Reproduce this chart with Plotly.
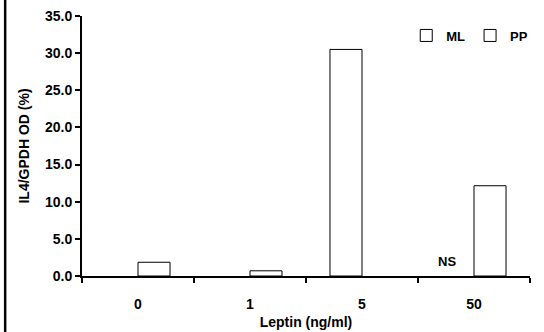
import plotly.graph_objects as go

categories = ["0", "1", "5", "50"]
ml_values = [None, None, 30.5, None]
pp_values = [1.85, 0.7, None, 12.15]
y_ticks = [0, 5, 10, 15, 20, 25, 30, 35]
y_tick_labels = ["0.0", "5.0", "10.0", "15.0", "20.0", "25.0", "30.0", "35.0"]

FONT = "Liberation Sans, Arial, sans-serif"

fig = go.Figure()
fig.add_trace(go.Bar(name="<b>ML</b>", x=categories, y=ml_values,
                     marker=dict(color="white", line=dict(color="black", width=1))))
fig.add_trace(go.Bar(name="<b>PP</b>", x=categories, y=pp_values,
                     marker=dict(color="white", line=dict(color="black", width=1))))

fig.add_annotation(x=3, y=1.9, xref="x", yref="y", text="<b>NS</b>", showarrow=False,
                   xshift=-27, font=dict(family=FONT, size=13, color="black"))

# scan frame edge at left
fig.add_shape(type="line", xref="paper", yref="paper", x0=-0.1715, x1=-0.1715, y0=-0.3, y1=1.2,
              line=dict(color="black", width=2.5))

fig.update_layout(
    width=544, height=332,
    margin=dict(l=82, r=13, t=16, b=56),
    paper_bgcolor="white", plot_bgcolor="white",
    barmode="group", bargap=0.428, bargroupgap=0,
    font=dict(family=FONT, size=13, color="black"),
    showlegend=True,
    legend=dict(orientation="h", x=1.005, xanchor="right", y=0.925, yanchor="middle",
                itemwidth=30,
                font=dict(family=FONT, size=13, color="black"),
                bgcolor="rgba(0,0,0,0)", tracegroupgap=0),
    xaxis=dict(type="category", range=[-0.5, 3.5], autorange=False, automargin=False,
               title=dict(text="<b>Leptin (ng/ml)</b>", standoff=6, font=dict(size=14)),
               showline=True, linecolor="black", linewidth=2,
               ticks="outside", tickson="boundaries", ticklen=5, tickwidth=2, tickcolor="black",
               ticklabelstandoff=14,
               tickfont=dict(size=14), showgrid=False, zeroline=False),
    yaxis=dict(title=dict(text="<b>IL4/GPDH OD (%)</b>", standoff=12, font=dict(size=14)),
               automargin=False,
               range=[0, 35], tickvals=y_ticks, ticktext=["<b>%s</b>" % t for t in y_tick_labels],
               showline=True, linecolor="black", linewidth=2,
               ticks="outside", ticklen=5, tickwidth=2, tickcolor="black",
               tickfont=dict(size=14), showgrid=False, zeroline=False),
)
fig.update_xaxes(tickmode="array", tickvals=categories,
                 ticktext=["<b>%s</b>" % c for c in categories])

fig.write_html("out.html")
